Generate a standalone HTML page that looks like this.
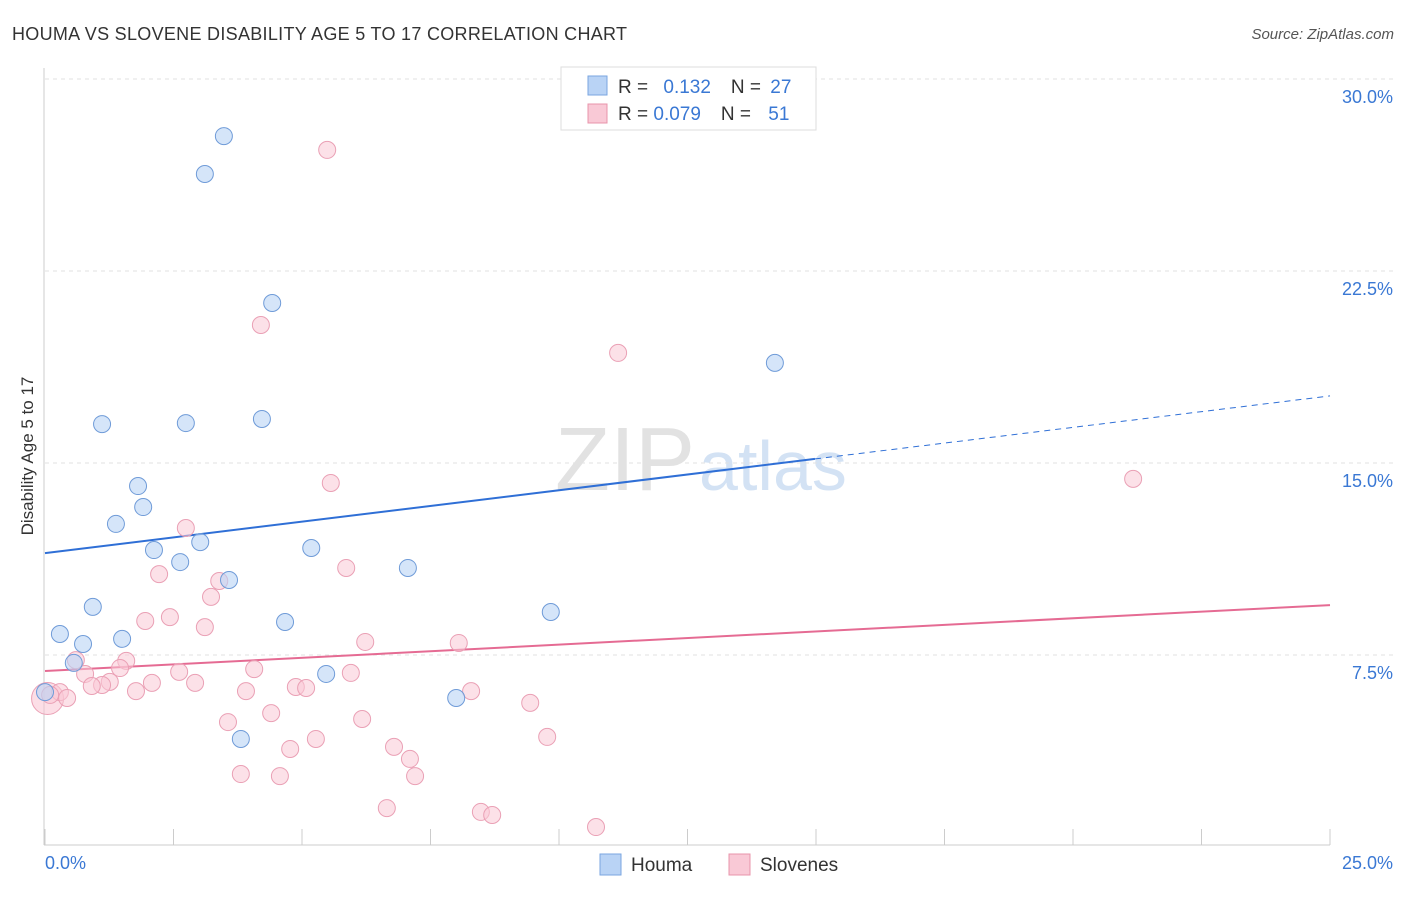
<!DOCTYPE html>
<html><head><meta charset="utf-8"><style>
body{margin:0;background:#fff;font-family:"Liberation Sans",sans-serif;}
svg text{font-family:"Liberation Sans",sans-serif;}
</style></head><body>
<svg width="1406" height="892" viewBox="0 0 1406 892">
<text x="12" y="40" font-size="18" fill="#333" textLength="615">HOUMA VS SLOVENE DISABILITY AGE 5 TO 17 CORRELATION CHART</text>
<text x="1394" y="39" font-size="15" fill="#555" font-style="italic" text-anchor="end">Source: ZipAtlas.com</text>
<text x="555" y="490" font-size="90" fill="#e2e2e2" font-family="Liberation Serif">ZIP<tspan fill="#d3e2f4" font-family="Liberation Sans" font-size="70" dx="4">atlas</tspan></text>
<g id="grid"></g>
<line x1="44" y1="68" x2="44" y2="845" stroke="#ccc"/>
<line x1="44" y1="845" x2="1330" y2="845" stroke="#ccc"/>
<text transform="translate(33,456) rotate(-90)" font-size="17" fill="#333" text-anchor="middle">Disability Age 5 to 17</text>
<text x="45" y="869" font-size="18" fill="#3a78d4">0.0%</text>
<text x="1393" y="869" font-size="18" fill="#3a78d4" text-anchor="end">25.0%</text>
<g id="lines"></g>
<g id="pts"></g>
<g>
<rect x="561" y="67" width="255" height="63" fill="#fff" stroke="#ddd"/>
<rect x="588" y="76" width="19" height="19" fill="#b9d3f5" stroke="#7aa6e0"/>
<text x="618" y="93" font-size="19" fill="#333">R = <tspan fill="#3a78d4" dx="10">0.132</tspan><tspan dx="20">N = </tspan><tspan fill="#3a78d4" dx="4">27</tspan></text>
<rect x="588" y="104" width="19" height="19" fill="#f9c9d6" stroke="#e894ab"/>
<text x="618" y="120" font-size="19" fill="#333">R = <tspan fill="#3a78d4">0.079</tspan><tspan dx="20">N = </tspan><tspan fill="#3a78d4" dx="12">51</tspan></text>
</g>
<g>
<rect x="600" y="854" width="21" height="21" fill="#b9d3f5" stroke="#7aa6e0"/>
<text x="631" y="871" font-size="19" fill="#333">Houma</text>
<rect x="729" y="854" width="21" height="21" fill="#f9c9d6" stroke="#e894ab"/>
<text x="760" y="871" font-size="19" fill="#333">Slovenes</text>
</g>
</svg>
<script>
const yTicks=[7.5,15,22.5,30];
const yTickLabels=["7.5%","15.0%","22.5%","30.0%"];
const xTicks=[0,2.5,5,7.5,10,12.5,15,17.5,20,22.5,25];
const houmaX=[3.48,3.11,4.42,1.11,2.74,4.22,14.20,1.81,1.91,1.38,2.12,3.02,2.63,5.18,3.58,7.06,0.93,0.29,0.74,1.50,4.67,9.84,0.56,5.47,0.0,8.00,3.81];
const houmaY=[27.77,26.29,21.25,16.52,16.56,16.72,18.91,14.10,13.28,12.62,11.60,11.91,11.13,11.68,10.43,10.90,9.38,8.32,7.93,8.13,8.79,9.18,7.19,6.76,6.05,5.82,4.22];
const sloveneX=[5.49,4.20,11.15,21.17,5.56,2.74,5.86,2.22,3.39,3.23,2.43,1.95,3.11,6.23,8.05,0.60,1.58,1.46,4.07,2.61,5.95,0.78,1.26,2.08,2.92,1.11,0.91,4.88,5.08,1.77,3.91,8.29,0.29,0.10,0.43,9.44,4.40,3.56,6.17,5.27,9.77,4.77,6.79,7.10,3.81,4.57,7.20,6.65,8.48,8.70,10.72];
const sloveneY=[27.23,20.39,19.30,14.38,14.22,12.46,10.90,10.66,10.39,9.77,8.98,8.83,8.59,8.01,7.97,7.30,7.27,6.99,6.95,6.84,6.80,6.76,6.45,6.41,6.41,6.33,6.29,6.25,6.21,6.09,6.09,6.09,6.05,5.94,5.82,5.63,5.23,4.88,5.00,4.22,4.30,3.83,3.91,3.44,2.85,2.77,2.77,1.52,1.37,1.25,0.78];
const houmaTrend=[11.48,17.62];
const sloveneTrend=[6.875,9.45];
const houmaSolidEnd=14.98;
const NS="http://www.w3.org/2000/svg";
const X=v=>45+v/25*1285, Y=v=>847-v/7.5*192;
function mk(t,a,p){const e=document.createElementNS(NS,t);for(const k in a)e.setAttribute(k,a[k]);p.appendChild(e);return e;}
const grid=document.getElementById('grid');
yTicks.forEach((t,i)=>{
 const l=mk('line',{x1:45,x2:1393,y1:Y(t),y2:Y(t),stroke:'#e2e2e2','stroke-dasharray':'4,4'},grid);
 
 
 const tx=mk('text',{x:1393,y:Y(t)+24,'font-size':18,fill:'#3a78d4','text-anchor':'end'},grid);
 tx.textContent=yTickLabels[i];
 
 
});
xTicks.forEach(t=>{
 const l=mk('line',{x1:X(t),x2:X(t),y1:829,y2:845,stroke:'#ccc'},grid);
 
 
});
const lines=document.getElementById('lines');
const hAt=v=>houmaTrend[0]+(houmaTrend[1]-houmaTrend[0])*v/25;
let a=mk('line',{x1:X(0),y1:Y(hAt(0)),x2:X(houmaSolidEnd),y2:Y(hAt(houmaSolidEnd)),stroke:'#2f6fd6','stroke-width':2},lines);


a=mk('line',{x1:X(houmaSolidEnd),y1:Y(hAt(houmaSolidEnd)),x2:X(25),y2:Y(hAt(25)),stroke:'#2f6fd6','stroke-width':1,'stroke-dasharray':'6,5'},lines);


a=mk('line',{x1:X(0),y1:Y(sloveneTrend[0]),x2:X(25),y2:Y(sloveneTrend[1]),stroke:'#e56b93','stroke-width':2},lines);


const pts=document.getElementById('pts');
let big=mk('circle',{cx:X(0.05),cy:Y(5.8),r:16,fill:'rgba(249,190,206,0.5)',stroke:'#eaa0b5'},pts);


sloveneX.forEach((v,i)=>{
 const c=mk('circle',{cx:X(v),cy:Y(sloveneY[i]),r:8.5,fill:'rgba(249,201,214,0.55)',stroke:'#eaa0b5','stroke-width':1},pts);
 
 
});
houmaX.forEach((v,i)=>{
 const c=mk('circle',{cx:X(v),cy:Y(houmaY[i]),r:8.5,fill:'rgba(185,211,245,0.6)',stroke:'#6f9bd8','stroke-width':1},pts);
 
 
});
</script>
</body></html>
